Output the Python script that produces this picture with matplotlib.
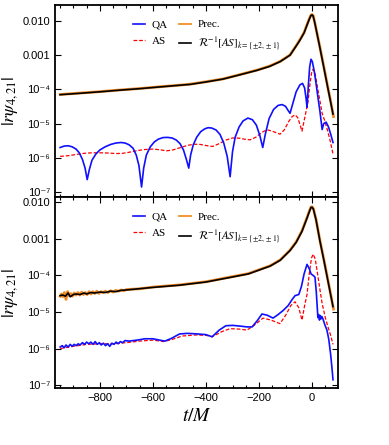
import numpy as np
import matplotlib.pyplot as plt
from matplotlib.ticker import FixedLocator, FixedFormatter, MultipleLocator

plt.rcParams['mathtext.fontset'] = 'stix'
plt.rcParams['font.family'] = ['Liberation Serif', 'DejaVu Sans']

# ---------------- top panel data ----------------
t_qa1 = [-950, -935, -920, -905, -890, -878, -866, -856, -848, -840, -830, -815, -800, -780,
         -760, -740, -720, -705, -690, -675, -663, -653, -643, -635, -625, -610, -595, -580,
         -562, -545, -528, -512, -498, -485, -474, -465, -458, -448, -435, -420, -405, -392,
         -378, -362, -347, -333, -320, -309, -300, -290, -275, -260, -242, -225, -210, -197,
         -186, -176, -162, -145, -128, -113, -100, -90, -83, -72, -60, -46, -36, -28, -22,
         -19, -14, -9, -4, 1, 8, 15, 22, 30, 38, 44, 53, 62, 70, 79]
qa1 = [2.0e-6, 2.2e-6, 2.25e-6, 2.1e-6, 1.8e-6, 1.4e-6, 9e-7, 5e-7, 2.3e-7, 4.5e-7, 8.5e-7,
       1.3e-6, 1.7e-6, 2.1e-6, 2.45e-6, 2.7e-6, 2.8e-6, 2.7e-6, 2.4e-6, 1.9e-6, 1.2e-6, 6e-7,
       1.4e-7, 5e-7, 1.2e-6, 2.1e-6, 2.9e-6, 3.5e-6, 3.9e-6, 3.95e-6, 3.8e-6, 3.3e-6, 2.6e-6,
       1.7e-6, 9e-7, 5e-7, 1.2e-6, 2.4e-6, 4e-6, 5.8e-6, 7.0e-6, 7.6e-6, 7.4e-6, 6.5e-6, 4.8e-6,
       2.7e-6, 1.1e-6, 2.8e-7, 1.5e-6, 4e-6, 8e-6, 1.2e-5, 1.45e-5, 1.3e-5, 9e-6, 4.5e-6, 2e-6,
       5e-6, 1.4e-5, 2.6e-5, 3.4e-5, 3.6e-5, 3.2e-5, 2.4e-5, 2.0e-5, 4e-5, 8.5e-5, 1.35e-4,
       1.5e-4, 1.1e-4, 5e-5, 3e-5, 1.3e-4, 4.5e-4, 7.6e-4, 6.5e-4, 3.5e-4, 1.5e-4, 6e-5, 2.2e-5,
       6.7e-6, 1.0e-5, 1.1e-5, 8e-6, 5e-6, 2.8e-6]

t_as1 = [-950, -920, -890, -860, -830, -800, -770, -740, -715, -690, -660, -630, -600, -575,
         -548, -525, -500, -470, -445, -420, -395, -375, -350, -325, -300, -275, -255, -234,
         -212, -190, -170, -150, -121, -105, -88, -75, -64, -54, -45, -38, -30, -22, -15, -8,
         -2, 4, 12, 20, 30, 38, 48, 58, 68, 79]
as1 = [1.1e-6, 1.15e-6, 1.25e-6, 1.35e-6, 1.4e-6, 1.4e-6, 1.38e-6, 1.33e-6, 1.35e-6, 1.45e-6,
       1.62e-6, 1.75e-6, 1.8e-6, 1.72e-6, 1.6e-6, 1.7e-6, 1.95e-6, 2.3e-6, 2.5e-6, 2.45e-6,
       2.25e-6, 2.15e-6, 2.6e-6, 3.3e-6, 3.8e-6, 3.75e-6, 3.5e-6, 3.35e-6, 4.0e-6, 5.5e-6,
       6.6e-6, 6.0e-6, 4.9e-6, 6.5e-6, 1.15e-5, 1.6e-5, 1.8e-5, 1.5e-5, 9e-6, 6e-6, 1.2e-5,
       2.4e-5, 4.5e-5, 1.4e-4, 3e-4, 3.9e-4, 2.8e-4, 1.2e-4, 4.5e-5, 2e-5, 1.2e-5, 6.5e-6,
       3.2e-6, 1.3e-6]

t_rot1 = [-950, -875, -800, -725, -650, -575, -500, -460, -400, -336, -270, -208, -160, -120,
          -83, -57, -45, -30, -19, -10, -4, 0, 4, 10, 20, 30, 45, 60, 70, 79]
rot1 = [7e-5, 7.7e-5, 8.5e-5, 9.5e-5, 1.05e-4, 1.18e-4, 1.32e-4, 1.4e-4, 1.65e-4, 2.0e-4,
        2.7e-4, 3.6e-4, 4.7e-4, 6.5e-4, 1.0e-3, 2.0e-3, 2.8e-3, 4.5e-3, 7.6e-3, 1.15e-2, 1.45e-2,
        1.5e-2, 1.4e-2, 9e-3, 3.8e-3, 1.6e-3, 4.1e-4, 1.05e-4, 4.3e-5, 1.9e-5]

t_prec1 = [-950, -875, -800, -725, -650, -575, -500, -460, -400, -336, -270, -208, -160, -120,
           -83, -57, -45, -30, -19, -10, -4, 0, 4, 10, 20, 30, 45, 60, 70, 81]
prec1 = [7.1e-5, 7.8e-5, 8.6e-5, 9.6e-5, 1.06e-4, 1.19e-4, 1.33e-4, 1.42e-4, 1.67e-4, 2.02e-4,
         2.73e-4, 3.65e-4, 4.8e-4, 6.6e-4, 1.02e-3, 2.05e-3, 2.9e-3, 4.6e-3, 7.8e-3, 1.18e-2,
         1.5e-2, 1.55e-2, 1.45e-2, 9.3e-3, 3.9e-3, 1.65e-3, 4.3e-4, 1.1e-4, 4.5e-5, 1.6e-5]

# ---------------- bottom panel data ----------------
t_qa2 = [-950, -942, -935, -928, -920, -912, -905, -897, -890, -882, -875, -866, -858, -850,
         -842, -834, -826, -818, -810, -802, -795, -787, -779, -771, -763, -755, -747, -739,
         -731, -723, -715, -705, -690, -660, -630, -600, -575, -555, -530, -500, -470, -430,
         -400, -377, -350, -325, -300, -270, -245, -226, -205, -189, -170, -147, -128, -109,
         -90, -75, -64, -50, -40, -30, -19, -10, -4, 4, 11, 16, 20, 22, 25, 28, 31, 34, 37, 41,
         48, 56, 63, 70, 75, 79]
qa2 = [1.1e-6, 1.2e-6, 1.05e-6, 1.25e-6, 1.1e-6, 1.3e-6, 1.15e-6, 1.3e-6, 1.2e-6, 1.35e-6,
       1.25e-6, 1.45e-6, 1.3e-6, 1.5e-6, 1.35e-6, 1.5e-6, 1.3e-6, 1.55e-6, 1.3e-6, 1.45e-6,
       1.25e-6, 1.4e-6, 1.2e-6, 1.35e-6, 1.15e-6, 1.4e-6, 1.3e-6, 1.5e-6, 1.35e-6, 1.55e-6,
       1.45e-6, 1.65e-6, 1.6e-6, 1.7e-6, 1.85e-6, 1.85e-6, 1.7e-6, 1.6e-6, 1.9e-6, 2.5e-6,
       2.6e-6, 2.5e-6, 2.4e-6, 2.1e-6, 3.2e-6, 4.2e-6, 4.3e-6, 4.1e-6, 3.9e-6, 3.9e-6, 6e-6,
       8.8e-6, 8.2e-6, 6.8e-6, 8.5e-6, 1.1e-5, 1.5e-5, 2.2e-5, 2.8e-5, 3e-5, 5e-5, 1.1e-4,
       2e-4, 1.5e-4, 1.1e-4, 1.0e-4, 9e-5, 3.5e-5, 1.2e-5, 7e-6, 8.5e-6, 6e-6, 8e-6, 6.5e-6,
       7.5e-6, 6.5e-6, 4.5e-6, 3.2e-6, 1.8e-6, 7e-7, 3e-7, 1.4e-7]

t_as2 = [-950, -900, -850, -800, -750, -700, -650, -600, -560, -530, -490, -440, -400, -377,
         -340, -309, -275, -245, -215, -185, -155, -121, -100, -80, -64, -50, -38, -28, -19,
         -10, -2, 4, 12, 20, 30, 38, 50, 62, 70, 79]
as2 = [1.0e-6, 1.15e-6, 1.3e-6, 1.35e-6, 1.35e-6, 1.45e-6, 1.6e-6, 1.7e-6, 1.55e-6, 1.75e-6,
       2.2e-6, 2.35e-6, 2.3e-6, 2.1e-6, 2.9e-6, 3.5e-6, 3.4e-6, 3.2e-6, 4.5e-6, 6.8e-6, 6.0e-6,
       4.8e-6, 8e-6, 1.5e-5, 1.9e-5, 1.3e-5, 6e-6, 1.5e-5, 3e-5, 1.2e-4, 3e-4, 3.8e-4, 2.8e-4,
       1.2e-4, 4e-5, 1.7e-5, 7e-6, 3.5e-6, 2.3e-6, 1.3e-6]

t_rot2 = [-950, -940, -930, -920, -912, -900, -890, -875, -860, -850, -835, -820, -800, -780,
          -760, -740, -720, -700, -600, -500, -400, -309, -240, -158, -120, -83, -60, -38, -19,
          -10, -4, 0, 5, 15, 30, 45, 60, 70, 79]
rot2 = [2.8e-5, 2.9e-5, 2.7e-5, 3.3e-5, 2.6e-5, 3.0e-5, 3.1e-5, 3.0e-5, 3.3e-5, 3.1e-5,
        3.4e-5, 3.3e-5, 3.5e-5, 3.4e-5, 3.7e-5, 3.6e-5, 3.9e-5, 4.0e-5, 4.7e-5, 5.4e-5,
        6.6e-5, 8.8e-5, 1.1e-4, 1.8e-4, 2.6e-4, 4.8e-4, 8e-4, 1.6e-3, 3.7e-3, 5.6e-3, 7.2e-3,
        7.3e-3, 6.5e-3, 3.3e-3, 8.5e-4, 2.5e-4, 7e-5, 3e-5, 1.4e-5]

t_prec2 = [-950, -945, -940, -934, -928, -922, -916, -910, -904, -897, -890, -883, -876, -869,
           -862, -855, -848, -841, -834, -827, -820, -812, -804, -796, -788, -780, -770, -760,
           -750, -740, -730, -720, -710, -700, -650, -600, -500, -400, -309, -240, -158, -120,
           -83, -60, -38, -19, -10, -4, 0, 5, 15, 30, 45, 60, 70, 81]
prec2 = [2.7e-5, 3.1e-5, 2.6e-5, 3.4e-5, 2.2e-5, 3.6e-5, 2.8e-5, 3.2e-5, 2.7e-5, 3.3e-5,
         2.9e-5, 3.4e-5, 2.9e-5, 3.5e-5, 3.0e-5, 3.4e-5, 3.0e-5, 3.6e-5, 3.1e-5, 3.6e-5,
         3.2e-5, 3.7e-5, 3.2e-5, 3.6e-5, 3.4e-5, 3.7e-5, 3.4e-5, 3.8e-5, 3.5e-5, 3.9e-5,
         3.7e-5, 4.0e-5, 3.8e-5, 4.1e-5, 4.3e-5, 4.8e-5, 5.5e-5, 6.7e-5, 9.0e-5, 1.12e-4,
         1.83e-4, 2.65e-4, 4.9e-4, 8.2e-4, 1.65e-3, 3.8e-3, 5.8e-3, 7.4e-3, 7.5e-3, 6.7e-3,
         3.4e-3, 8.8e-4, 2.6e-4, 7.3e-5, 3.1e-5, 1.2e-5]

ytick_vals = [1e-7, 1e-6, 1e-5, 1e-4, 1e-3, 1e-2]
ytick_labels = ['10\u207b\u2077', '10\u207b\u2076', '10\u207b\u2075', '10\u207b\u2074',
                '0.001', '0.010']
tick_family = ['Liberation Sans', 'DejaVu Sans']

fig = plt.figure(figsize=(3.89, 4.45), dpi=100)
ax1 = fig.add_axes([0.141, 0.557, 0.728, 0.432])
ax2 = fig.add_axes([0.141, 0.128, 0.728, 0.429])

panels = [
    (ax1, t_qa1, qa1, t_as1, as1, t_prec1, prec1, t_rot1, rot1, (10**-7.15, 10**-1.53)),
    (ax2, t_qa2, qa2, t_as2, as2, t_prec2, prec2, t_rot2, rot2, (10**-7.08, 10**-1.86)),
]

for ax, tq, q, ta, a, tp, p, tr, r, ylim in panels:
    lp, = ax.plot(tp, p, color='#f28c28', lw=2.0)
    lr, = ax.plot(tr, r, color='black', lw=1.2)
    la, = ax.plot(ta, a, color='red', lw=0.9, ls=(0, (3, 1.5)))
    lq, = ax.plot(tq, q, color='#1010ff', lw=1.2)
    ax.set_yscale('log')
    ax.set_xlim(-970, 98)
    ax.set_ylim(*ylim)
    ax.yaxis.set_major_locator(FixedLocator(ytick_vals))
    ax.yaxis.set_major_formatter(FixedFormatter(ytick_labels))
    ax.yaxis.set_minor_locator(FixedLocator([]))
    ax.xaxis.set_major_locator(MultipleLocator(200))
    ax.xaxis.set_minor_locator(MultipleLocator(50))
    ax.tick_params(which='both', direction='in', top=True, right=True, width=0.8)
    ax.tick_params(which='major', length=4, labelsize=8)
    ax.tick_params(which='minor', length=2)
    for lab in ax.get_yticklabels():
        lab.set_fontfamily(tick_family)
    for s in ax.spines.values():
        s.set_linewidth(1.3)
    ax.set_ylabel(r'$|r\psi_{4,21}|$', fontsize=13, labelpad=2)
    hp = plt.Line2D([], [], color='#f28c28', lw=1.3)
    ax.legend([lq, la, hp, lr],
              ['QA', 'AS', 'Prec.', r'$\mathcal{R}^{-1}[AS]_{k=\{\pm2,\pm1\}}$'],
              ncol=2, frameon=False, loc='upper left', bbox_to_anchor=(0.24, 0.975),
              fontsize=8, handlelength=1.1, handletextpad=0.6, columnspacing=1.0,
              labelspacing=0.6)

ax1.tick_params(labelbottom=False)
ax2.set_xticks([-800, -600, -400, -200, 0])
ax2.set_xticklabels(['\u2212800', '\u2212600', '\u2212400', '\u2212200', '0'])
for lab in ax2.get_xticklabels():
    lab.set_fontfamily(tick_family)
ax2.set_xlabel(r'$t/M$', fontsize=14, labelpad=4)

fig.savefig('out.png', dpi=100)
